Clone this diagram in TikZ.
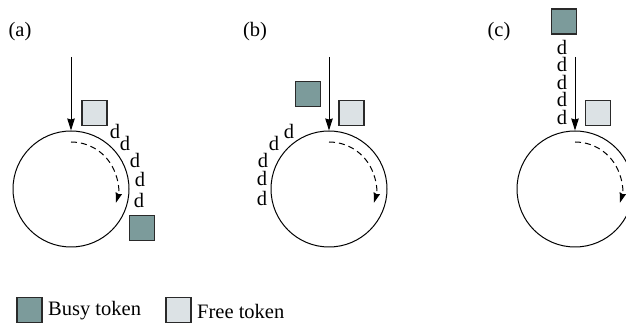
\documentclass[tikz,border=0pt]{standalone}
\usepackage{fontspec}
\setmainfont{Liberation Serif}
\usetikzlibrary{arrows.meta}
\definecolor{busyc}{HTML}{7C9B9B}
\definecolor{freec}{HTML}{DCE2E5}
\definecolor{edgec}{HTML}{2A2A2A}
\begin{document}
\begin{tikzpicture}[x=1pt,y=1pt,
  font=\fontsize{20.5}{22}\selectfont,
  ring/.style={circle,draw=black,line width=1pt,minimum size=116pt,inner sep=0pt},
  tok/.style={draw=edgec,line width=1.2pt,minimum width=25pt,minimum height=25pt,inner sep=0pt},
  busy/.style={tok,fill=busyc},
  free/.style={tok,fill=freec},
  lbl/.style={inner sep=0pt},
  dl/.style={inner sep=0pt,text height=11pt,text depth=0pt},
  inarrow/.style={line width=1pt,-{Stealth[length=12pt,width=7.5pt,inset=1pt]}},
  rot/.style={dashed,dash pattern=on 6pt off 4pt,line width=1pt,-{Stealth[length=10pt,width=6.5pt,inset=1pt]}}
]
\useasboundingbox (0,0) rectangle (626,323);

% ---------- (a)
\node[lbl] (la) at (20,291) {(a)};
\node[ring] (ra) at (71,134) {};
\coordinate (sa) at (71,266);
\draw[inarrow] (sa) -- (ra.north);
\node[free] (fa) at (94.5,210) {};
\node[busy] (ba) at (142,95) {};
\draw[rot] ([shift={(90:47)}]ra.center) arc[start angle=90,end angle=-17,radius=47];
\node[dl] (da1) at (115,190) {d};
\node[dl] (da2) at (125,178) {d};
\node[dl] (da3) at (135,161) {d};
\node[dl] (da4) at (140,142) {d};
\node[dl] (da5) at (139,121) {d};

% ---------- (b)
\node[lbl] (lb) at (255,291) {(b)};
\node[ring] (rb) at (329,134) {};
\coordinate (sb) at (329,266);
\draw[inarrow] (sb) -- (rb.north);
\node[busy] (bb) at (308,229) {};
\node[free] (fb) at (351.5,210) {};
\draw[rot] ([shift={(90:47)}]rb.center) arc[start angle=90,end angle=-17,radius=47];
\node[dl] (db1) at (289,190) {d};
\node[dl] (db2) at (274,178) {d};
\node[dl] (db3) at (263,161) {d};
\node[dl] (db4) at (262,143) {d};
\node[dl] (db5) at (262,123) {d};

% ---------- (c)
\node[lbl] (lc) at (499,291) {(c)};
\node[ring] (rc) at (575,134) {};
\coordinate (sc) at (575,266);
\draw[inarrow] (sc) -- (rc.north);
\node[busy] (bc) at (564,301.5) {};
\node[free] (fc) at (598,210) {};
\draw[rot] ([shift={(90:47)}]rc.center) arc[start angle=90,end angle=-17,radius=47];
\node[lbl,align=center,font=\fontsize{20.5}{17.5}\selectfont] (dc) at (562,241) {d\\d\\d\\d\\d};

% ---------- legend
\node[busy] (kb) at (29.5,13) {};
\node[lbl,anchor=west] (kbt) at (48,12) {Busy token};
\node[free] (kf) at (178.5,13) {};
\node[lbl,anchor=west] (kft) at (197,12) {Free token};
\end{tikzpicture}
\end{document}
